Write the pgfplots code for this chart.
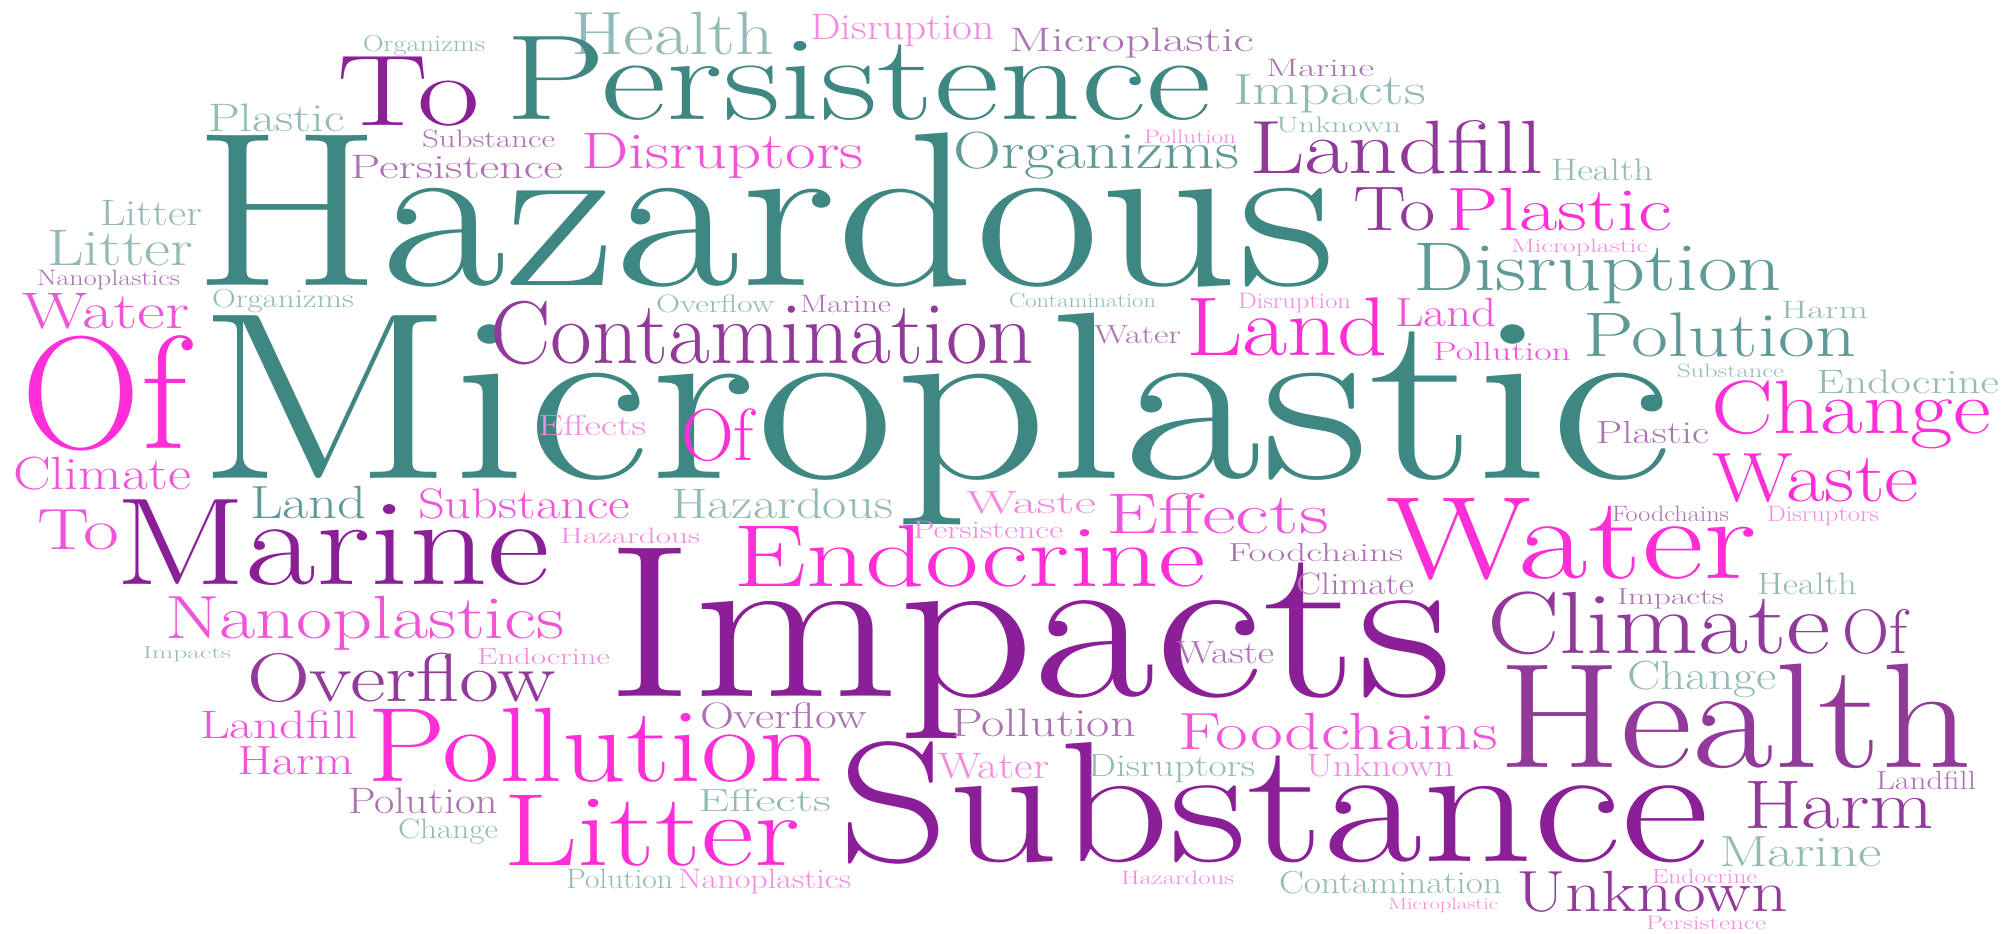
\documentclass[border=0pt]{standalone}
\usepackage{pgfplots}
\usepackage{pgfplotstable}
\pgfplotsset{compat=1.18}
\usepackage{fontspec}
\definecolor{tealD}{HTML}{3F8782}
\definecolor{tealM}{HTML}{5F9A96}
\definecolor{tealL}{HTML}{93BAB6}
\definecolor{purpleD}{HTML}{8B1F97}
\definecolor{purpleM}{HTML}{923A9A}
\definecolor{mauveL}{HTML}{AC72B2}
\definecolor{magenta}{HTML}{FF2ED6}
\definecolor{pinkM}{HTML}{F055D9}
\definecolor{pinkL}{HTML}{F38ADF}
% \W{font size px}{word width px}{colour}{word}
\protected\def\W#1#2#3#4{\textcolor{#3}{\resizebox{#2bp}{\height}{\fontsize{\the\dimexpr#1bp*969/1000\relax}{\the\dimexpr#1bp\relax}\selectfont #4}}}
% x = left edge, y = baseline (image px, y down)
\pgfplotstableread{
x y m
363 52 \W{24}{122}{tealL}{Organizms}
337 126 \W{104}{143}{purpleD}{To}
208 132 \W{41}{137}{tealL}{Plastic}
193 285 \W{227}{1143}{tealD}{Hazardous}
422 147 \W{26}{133}{mauveL}{Substance}
350 178 \W{35}{213}{mauveL}{Persistence}
100 225 \W{38}{102}{tealL}{Litter}
47 265 \W{53}{146}{tealL}{Litter}
37 285 \W{23}{143}{mauveL}{Nanoplastics}
22 328 \W{53}{168}{pinkM}{Water}
212 307 \W{27}{142}{tealL}{Organizms}
22 448 \W{166}{165}{magenta}{Of}
197 478 \W{246}{1476}{tealD}{Microplastic}
571 55 \W{63}{203}{tealL}{Health}
810 40 \W{38}{185}{pinkL}{Disruption}
505 120 \W{125}{706}{tealD}{Persistence}
581 168 \W{53}{283}{pinkM}{Disruptors}
953 168 \W{54}{286}{tealM}{Organizms}
656 312 \W{26}{118}{tealL}{Overflow}
800 312 \W{26}{91}{mauveL}{Marine}
490 363 \W{92}{544}{purpleM}{Contamination}
538 435 \W{30}{108}{pinkL}{Effects}
681 460 \W{76}{73}{magenta}{Of}
1009 52 \W{35}{245}{mauveL}{Microplastic}
1266 77 \W{26}{108}{mauveL}{Marine}
1233 105 \W{45}{193}{tealL}{Impacts}
1144 143 \W{20}{92}{pinkL}{Pollution}
1276 133 \W{23}{125}{tealL}{Unknown}
1249 173 \W{78}{295}{purpleM}{Landfill}
1551 180 \W{32}{102}{tealL}{Health}
1353 230 \W{65}{83}{purpleM}{To}
1446 230 \W{63}{226}{magenta}{Plastic}
1511 252 \W{20}{137}{pinkL}{Microplastic}
1413 290 \W{71}{369}{tealM}{Disruption}
1009 307 \W{21}{147}{tealL}{Contamination}
1238 308 \W{23}{113}{pinkL}{Disruption}
1094 343 \W{27}{87}{mauveL}{Water}
1186 355 \W{86}{202}{magenta}{Land}
1395 326 \W{42}{102}{pinkM}{Land}
1433 360 \W{27}{138}{pinkM}{Pollution}
1583 356 \W{65}{273}{tealM}{Polution}
1781 318 \W{26}{87}{tealL}{Harm}
1677 377 \W{20}{107}{tealL}{Substance}
1816 393 \W{35}{183}{tealL}{Endocrine}
1711 433 \W{78}{280}{magenta}{Change}
1596 443 \W{33}{113}{mauveL}{Plastic}
1712 501 \W{72}{207}{magenta}{Waste}
13 489 \W{48}{178}{pinkM}{Climate}
37 549 \W{60}{82}{pinkM}{To}
115 584 \W{128}{435}{purpleD}{Marine}
250 518 \W{48}{117}{tealM}{Land}
418 518 \W{44}{212}{pinkM}{Substance}
671 518 \W{44}{222}{tealL}{Hazardous}
165 638 \W{63}{400}{pinkM}{Nanoplastics}
143 658 \W{18}{88}{tealL}{Impacts}
560 543 \W{23}{140}{pinkL}{Hazardous}
733 586 \W{91}{473}{magenta}{Endocrine}
913 538 \W{26}{150}{pinkL}{Persistence}
966 513 \W{33}{130}{pinkL}{Waste}
1106 533 \W{59}{223}{pinkM}{Effects}
477 664 \W{24}{133}{pinkL}{Endocrine}
247 701 \W{71}{309}{purpleM}{Overflow}
606 696 \W{224}{847}{purpleD}{Impacts}
200 738 \W{41}{158}{pinkM}{Landfill}
237 774 \W{42}{117}{pinkM}{Harm}
367 781 \W{109}{456}{magenta}{Pollution}
348 813 \W{38}{150}{mauveL}{Polution}
398 838 \W{29}{100}{tealL}{Change}
700 728 \W{38}{167}{mauveL}{Overflow}
503 865 \W{106}{297}{magenta}{Litter}
698 811 \W{33}{133}{tealL}{Effects}
566 888 \W{29}{107}{tealL}{Polution}
678 888 \W{29}{173}{pinkL}{Nanoplastics}
838 861 \W{177}{871}{purpleD}{Substance}
951 736 \W{41}{185}{mauveL}{Pollution}
938 778 \W{38}{111}{pinkL}{Water}
1228 561 \W{27}{175}{mauveL}{Foodchains}
1296 594 \W{32}{118}{mauveL}{Climate}
1176 663 \W{33}{98}{mauveL}{Waste}
1178 749 \W{54}{320}{pinkM}{Foodchains}
1088 776 \W{33}{167}{tealL}{Disruptors}
1306 776 \W{33}{148}{pinkL}{Unknown}
1121 884 \W{20}{113}{pinkL}{Hazardous}
1279 893 \W{33}{223}{tealL}{Contamination}
1388 909 \W{17}{110}{pinkL}{Microplastic}
1386 578 \W{121}{371}{magenta}{Water}
1612 521 \W{23}{117}{mauveL}{Foodchains}
1767 521 \W{23}{112}{pinkL}{Disruptors}
1757 594 \W{32}{100}{tealL}{Health}
1617 604 \W{24}{107}{mauveL}{Impacts}
1487 653 \W{91}{344}{purpleM}{Climate}
1842 653 \W{65}{65}{purpleM}{Of}
1627 689 \W{42}{150}{tealL}{Change}
1498 767 \W{154}{474}{purpleM}{Health}
1876 789 \W{27}{100}{mauveL}{Landfill}
1744 828 \W{71}{190}{purpleM}{Harm}
1719 866 \W{45}{163}{tealL}{Marine}
1652 883 \W{21}{105}{pinkL}{Endocrine}
1516 911 \W{60}{272}{purpleM}{Unknown}
1646 929 \W{20}{120}{pinkL}{Persistence}
}\words
\begin{document}
\begin{tikzpicture}
\begin{axis}[
  scale only axis, width=2012bp, height=933bp,
  xmin=0, xmax=2012, ymin=0, ymax=933, y dir=reverse,
  hide axis, clip=false,
]
\addplot[draw=none, mark=none,
  point meta=explicit symbolic,
  nodes near coords,
  nodes near coords style={anchor=base west, inner sep=0pt, outer sep=0pt},
] table[x=x, y=y, meta=m] {\words};
\end{axis}
\pgfresetboundingbox
\path[use as bounding box] (current axis.south west) rectangle (current axis.north east);
\end{tikzpicture}
\end{document}
